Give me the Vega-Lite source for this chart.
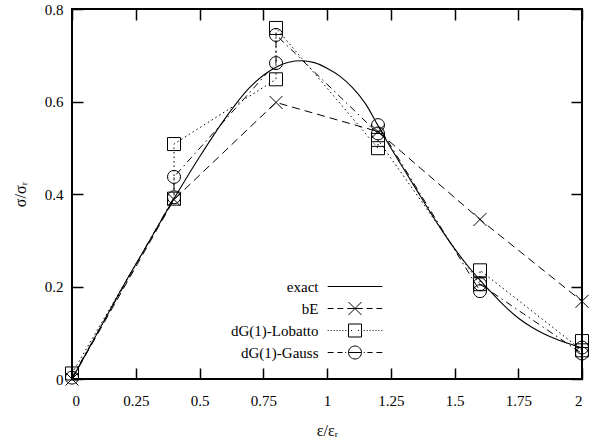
{
  "$schema": "https://vega.github.io/schema/vega-lite/v6.json",
  "width": 510,
  "height": 370,
  "autosize": {"type": "none"},
  "padding": {"left": 72, "top": 9, "right": 8, "bottom": 64},
  "background": "white",
  "datasets": {
    "exact": [
      {"x": 0, "y": 0}, {"x": 0.1, "y": 0.1}, {"x": 0.2, "y": 0.2}, {"x": 0.3, "y": 0.295},
      {"x": 0.4, "y": 0.39}, {"x": 0.5, "y": 0.48}, {"x": 0.6, "y": 0.563}, {"x": 0.7, "y": 0.632},
      {"x": 0.8, "y": 0.674}, {"x": 0.85, "y": 0.685}, {"x": 0.9, "y": 0.688}, {"x": 0.95, "y": 0.684},
      {"x": 1.0, "y": 0.672}, {"x": 1.05, "y": 0.655}, {"x": 1.1, "y": 0.63}, {"x": 1.15, "y": 0.596},
      {"x": 1.2, "y": 0.548}, {"x": 1.25, "y": 0.5}, {"x": 1.3, "y": 0.455}, {"x": 1.35, "y": 0.41},
      {"x": 1.4, "y": 0.365}, {"x": 1.45, "y": 0.322}, {"x": 1.5, "y": 0.282}, {"x": 1.55, "y": 0.246},
      {"x": 1.6, "y": 0.214}, {"x": 1.65, "y": 0.184}, {"x": 1.7, "y": 0.156}, {"x": 1.75, "y": 0.132},
      {"x": 1.8, "y": 0.113}, {"x": 1.85, "y": 0.098}, {"x": 1.9, "y": 0.086}, {"x": 1.95, "y": 0.076},
      {"x": 2.0, "y": 0.067}
    ],
    "pts": [
      {"series": "bE", "i": 0, "x": 0, "y": 0},
      {"series": "bE", "i": 1, "x": 0.4, "y": 0.388},
      {"series": "bE", "i": 2, "x": 0.8, "y": 0.598},
      {"series": "bE", "i": 3, "x": 1.2, "y": 0.535},
      {"series": "bE", "i": 4, "x": 1.6, "y": 0.345},
      {"series": "bE", "i": 5, "x": 2, "y": 0.168},
      {"series": "dG(1)-Lobatto", "i": 0, "x": 0, "y": 0.012},
      {"series": "dG(1)-Lobatto", "i": 1, "x": 0.4, "y": 0.39},
      {"series": "dG(1)-Lobatto", "i": 2, "x": 0.4, "y": 0.508},
      {"series": "dG(1)-Lobatto", "i": 3, "x": 0.8, "y": 0.648},
      {"series": "dG(1)-Lobatto", "i": 4, "x": 0.8, "y": 0.759},
      {"series": "dG(1)-Lobatto", "i": 5, "x": 1.2, "y": 0.499},
      {"series": "dG(1)-Lobatto", "i": 6, "x": 1.2, "y": 0.517},
      {"series": "dG(1)-Lobatto", "i": 7, "x": 1.6, "y": 0.205},
      {"series": "dG(1)-Lobatto", "i": 8, "x": 1.6, "y": 0.235},
      {"series": "dG(1)-Lobatto", "i": 9, "x": 2, "y": 0.062},
      {"series": "dG(1)-Lobatto", "i": 10, "x": 2, "y": 0.082},
      {"series": "dG(1)-Gauss", "i": 0, "x": 0, "y": 0.003},
      {"series": "dG(1)-Gauss", "i": 1, "x": 0.4, "y": 0.393},
      {"series": "dG(1)-Gauss", "i": 2, "x": 0.4, "y": 0.437},
      {"series": "dG(1)-Gauss", "i": 3, "x": 0.8, "y": 0.683},
      {"series": "dG(1)-Gauss", "i": 4, "x": 0.8, "y": 0.744},
      {"series": "dG(1)-Gauss", "i": 5, "x": 1.2, "y": 0.531},
      {"series": "dG(1)-Gauss", "i": 6, "x": 1.2, "y": 0.549},
      {"series": "dG(1)-Gauss", "i": 7, "x": 1.6, "y": 0.19},
      {"series": "dG(1)-Gauss", "i": 8, "x": 1.6, "y": 0.205},
      {"series": "dG(1)-Gauss", "i": 9, "x": 2, "y": 0.055},
      {"series": "dG(1)-Gauss", "i": 10, "x": 2, "y": 0.068}
    ]
  },
  "layer": [
    {
      "data": {"name": "exact"},
      "mark": {"type": "line", "color": "black", "strokeWidth": 1.1, "interpolate": "monotone", "clip": true},
      "encoding": {
        "x": {"field": "x", "type": "quantitative", "scale": {"domain": [0, 2], "nice": false},
          "axis": {"orient": "bottom", "values": [0, 0.25, 0.5, 0.75, 1, 1.25, 1.5, 1.75, 2], "format": ".3~g", "title": "ε/εᵣ", "labelPadding": 25, "titlePadding": 14}},
        "y": {"field": "y", "type": "quantitative", "scale": {"domain": [0, 0.8], "nice": false},
          "axis": {"orient": "left", "values": [0, 0.2, 0.4, 0.6, 0.8], "format": ".2~g", "title": "σ/σᵣ", "labelPadding": 20, "titlePadding": 16}}
      }
    },
    {
      "data": {"name": "pts"},
      "transform": [{"filter": "datum.series == 'bE'"}],
      "mark": {"type": "line", "color": "black", "strokeWidth": 1, "strokeDash": [8, 5]},
      "encoding": {
        "x": {"field": "x", "type": "quantitative", "axis": {"orient": "top", "values": [0, 0.25, 0.5, 0.75, 1, 1.25, 1.5, 1.75, 2], "labels": false, "title": null}},
        "y": {"field": "y", "type": "quantitative", "axis": {"orient": "right", "values": [0, 0.2, 0.4, 0.6, 0.8], "labels": false, "title": null}},
        "order": {"field": "i", "type": "quantitative"}
      }
    },
    {
      "data": {"name": "pts"},
      "transform": [{"filter": "datum.series == 'dG(1)-Lobatto'"}],
      "mark": {"type": "line", "color": "black", "strokeWidth": 1, "strokeDash": [1.5, 3]},
      "encoding": {
        "x": {"field": "x", "type": "quantitative", "axis": null},
        "y": {"field": "y", "type": "quantitative", "axis": null},
        "order": {"field": "i", "type": "quantitative"}
      }
    },
    {
      "data": {"name": "pts"},
      "transform": [{"filter": "datum.series == 'dG(1)-Gauss'"}],
      "mark": {"type": "line", "color": "black", "strokeWidth": 1, "strokeDash": [7, 4, 1.5, 4]},
      "encoding": {
        "x": {"field": "x", "type": "quantitative", "axis": null},
        "y": {"field": "y", "type": "quantitative", "axis": null},
        "order": {"field": "i", "type": "quantitative"}
      }
    },
    {
      "data": {"name": "pts"},
      "mark": {"type": "point", "filled": false, "color": "black", "strokeWidth": 1, "size": 169, "opacity": 1},
      "encoding": {
        "x": {"field": "x", "type": "quantitative", "axis": null},
        "y": {"field": "y", "type": "quantitative", "axis": null},
        "shape": {"field": "series", "type": "nominal", "legend": null,
          "scale": {"domain": ["bE", "dG(1)-Lobatto", "dG(1)-Gauss"], "range": ["M-1,-1L1,1M-1,1L1,-1", "square", "circle"]}}
      }
    },
    {
      "data": {"name": "pts"},
      "mark": {"type": "point", "filled": false, "color": "black", "strokeWidth": 1, "size": 169, "opacity": 0},
      "encoding": {
        "x": {"field": "x", "type": "quantitative", "axis": null},
        "y": {"field": "y", "type": "quantitative", "axis": null},
        "shape": {"field": "series", "type": "nominal",
          "scale": {"domain": ["exact", "bE", "dG(1)-Lobatto", "dG(1)-Gauss"],
            "range": [
              "M-4.2,0H4.2",
              "M-4.2,0H-3.3M-2.7,0H-1.8M-1.2,0H1.2M1.8,0H2.7M3.3,0H4.2M-1,-1L1,1M-1,1L1,-1",
              "M-4.2,0H-4.05M-3.75,0H-3.6M-3.3,0H-3.15M-2.85,0H-2.7M-2.4,0H-2.25M-1.95,0H-1.8M-1.5,0H-1.35M-0.6,0H-0.45M0.45,0H0.6M1.35,0H1.5M1.8,0H1.95M2.25,0H2.4M2.7,0H2.85M3.15,0H3.3M3.6,0H3.75M4.05,0H4.2M-1,-1H1V1H-1Z",
              "M-4.2,0H-3.3M-2.7,0H-1.9M-1.5,0H-1.35M-1,0H1M1.35,0H1.5M1.9,0H2.7M3.3,0H4.2M-1,0A1,1 0 1,0 1,0A1,1 0 1,0 -1,0"
            ]},
          "legend": {
            "orient": "none", "legendX": 275.5, "legendY": 270, "padding": 0,
            "title": null, "symbolSize": 169, "symbolStrokeWidth": 1, "symbolStrokeColor": "black", "symbolFillColor": "transparent", "symbolOpacity": 1,
            "labelAlign": "right", "labelOffset": -44, "labelFont": "Liberation Serif, Times New Roman, serif", "labelFontSize": 15, "labelColor": "black",
            "rowPadding": 5, "labelLimit": 300,
            "encode": {"symbols": {"update": {"opacity": {"value": 1}, "stroke": {"value": "black"}, "fill": {"value": "transparent"}}}}
          }
        }
      }
    }
  ],
  "resolve": {"scale": {"shape": "independent"}, "axis": {"x": "independent", "y": "independent"}},
  "config": {
    "view": {"stroke": "black", "strokeWidth": 2},
    "axis": {
      "domain": false, "grid": false, "ticks": true, "tickSize": -11, "tickWidth": 1.5, "tickColor": "black",
      "labelFont": "Liberation Serif, Times New Roman, serif", "labelFontSize": 15, "labelColor": "black",
      "titleFont": "Liberation Serif, Times New Roman, serif", "titleFontSize": 16, "titleFontWeight": "normal", "titleColor": "black"
    }
  }
}
